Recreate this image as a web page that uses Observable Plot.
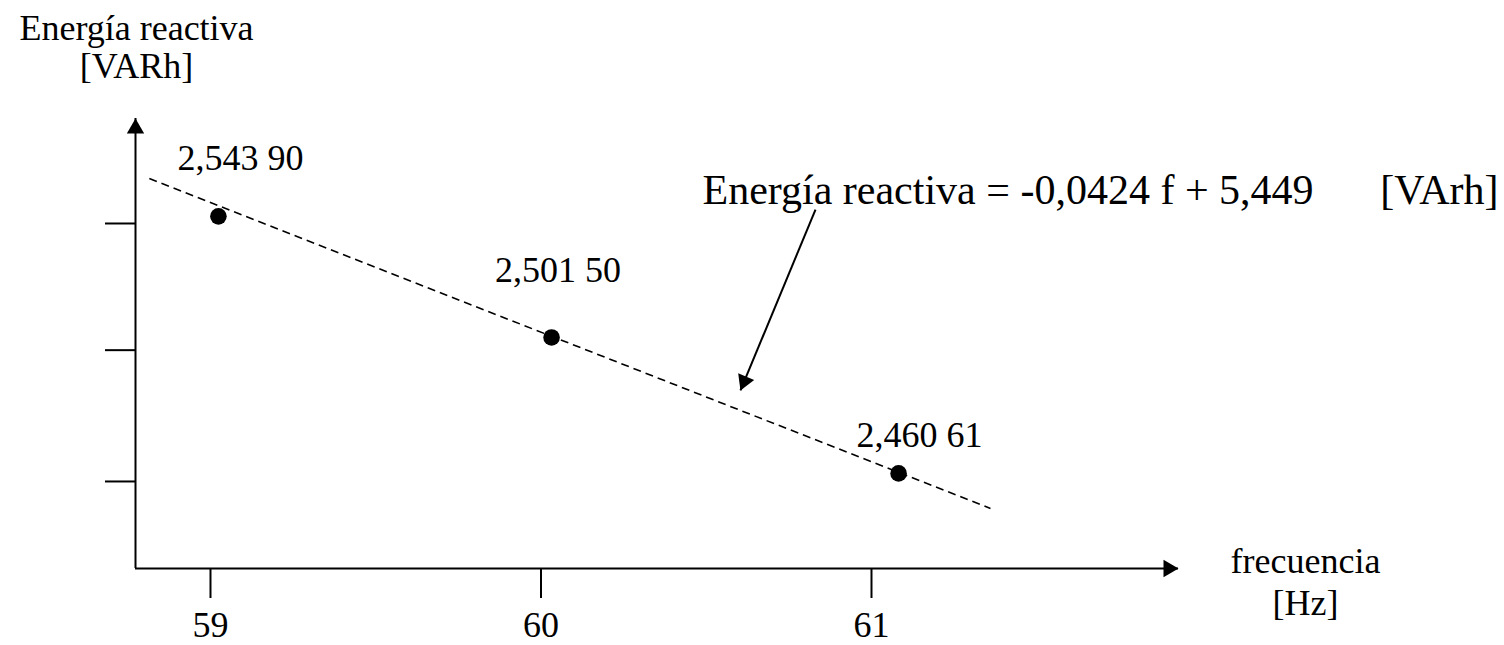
<!DOCTYPE html>
<html>
<head>
<meta charset="utf-8">
<script src="https://cdn.jsdelivr.net/npm/d3@7"></script>
<script src="https://cdn.jsdelivr.net/npm/@observablehq/plot@0.6"></script>
<style>
  html, body { margin: 0; padding: 0; background: #fff; }
  #chart svg { display: block; }
</style>
</head>
<body>
<div id="chart"></div>
<script>
// ---- data ----
const freqTicks = [59, 60, 61];                 // x tick values (Hz)
const energyTicks = [2.5439, 2.503, 2.4606];    // unlabeled y ticks (VARh)
const freqPts = [59.024, 60.032, 61.082];       // measured points, frequency
const energyPts = [2.5462, 2.5071, 2.4632];     // measured points, energy
const pointLabels = ["2,543 90", "2,501 50", "2,460 61"];
const fitFreq = [58.815, 61.360];               // dashed fit line endpoints
const fitEnergy = [2.5584, 2.4519];
const arrowFrom = [60.8306, 2.5484];            // annotation arrow (freq, energy)
const arrowTo = [60.6036, 2.4900];
const equationText = "Energía reactiva = -0,0424 f + 5,449";
const equationUnit = "[VArh]";
const yTitle = "Energía reactiva\n[VARh]";
const xTitle = "frecuencia\n[Hz]";
const xDomain = [58.7731, 61.9289];
const yDomain = [2.4325, 2.5778];

const points = freqPts.map((f, i) => ({f, e: energyPts[i], label: pointLabels[i]}));
const fit = [{x1: fitFreq[0], y1: fitEnergy[0], x2: fitFreq[1], y2: fitEnergy[1]}];
const ann = [{x1: arrowFrom[0], y1: arrowFrom[1], x2: arrowTo[0], y2: arrowTo[1]}];

const FONT = "Liberation Serif, Times New Roman, serif";
const labelOffsets = [[22, -46], [6.5, -55], [21, -26]];

const chart = Plot.plot({
  width: 1504,
  height: 645,
  marginLeft: 135,
  marginRight: 326,
  marginTop: 118,
  marginBottom: 77,
  style: {fontFamily: FONT, background: "#fff", color: "#000"},
  x: {domain: xDomain, axis: null},
  y: {domain: yDomain, axis: null},
  marks: [
    // axis lines
    Plot.ruleY([yDomain[0]], {strokeWidth: 2, stroke: "#000"}),
    Plot.ruleX([xDomain[0]], {strokeWidth: 2, stroke: "#000"}),
    // axis arrowheads
    Plot.dot([{x: xDomain[1], y: yDomain[0]}], {x: "x", y: "y", symbol: "triangle", r: 6.43, fill: "#000", rotate: 90, dx: -10}),
    Plot.dot([{x: xDomain[0], y: yDomain[1]}], {x: "x", y: "y", symbol: "triangle", r: 6.43, fill: "#000", rotate: 0, dy: 10}),
    // ticks
    Plot.axisX(freqTicks, {tickSize: 30, tickPadding: 13, strokeWidth: 2, fontSize: 36, fontFamily: FONT, fill: "#000", stroke: "#000", label: null, tickFormat: d => String(d)}),
    Plot.axisY(energyTicks, {tickSize: 30, strokeWidth: 2, stroke: "#000", fill: "none", label: null}),
    // dashed fit line
    Plot.link(fit, {x1: "x1", y1: "y1", x2: "x2", y2: "y2", stroke: "#000", strokeWidth: 1.6, strokeDasharray: "8,5"}),
    // points
    Plot.dot(points, {x: "f", y: "e", r: 8.3, fill: "#000"}),
    // point labels
    ...labelOffsets.map(([dx, dy], i) =>
      Plot.text(points, {filter: (d, j) => j === i, x: "f", y: "e", text: "label", dx, dy,
        lineAnchor: "bottom", textAnchor: "middle", fontSize: 36, fontFamily: FONT, fill: "#000"})),
    // annotation arrow
    Plot.link(ann, {x1: "x1", y1: "y1", x2: "x2", y2: "y2", stroke: "#000", strokeWidth: 2}),
    Plot.dot(ann, {x: "x2", y: "y2", symbol: "triangle", r: 6.43, fill: "#000", rotate: 202.5, dx: 3.8, dy: -9.2}),
    // equation
    Plot.text(ann, {x: "x1", y: "y1", text: () => equationText, dx: -113, dy: -6,
      lineAnchor: "bottom", textAnchor: "start", fontSize: 42, fontFamily: FONT, fill: "#000"}),
    Plot.text(ann, {x: "x1", y: "y1", text: () => equationUnit, dx: 683, dy: -6,
      lineAnchor: "bottom", textAnchor: "end", fontSize: 42, fontFamily: FONT, fill: "#000"}),
    // axis titles
    Plot.text([{x: xDomain[0], y: yDomain[1]}], {x: "x", y: "y", text: () => yTitle, dx: 1, dy: -41,
      lineAnchor: "bottom", textAnchor: "middle", lineHeight: 1.05, fontSize: 36, fontFamily: FONT, fill: "#000"}),
    Plot.text([{x: xDomain[1], y: yDomain[0]}], {x: "x", y: "y", text: () => xTitle, dx: 127, dy: 46,
      lineAnchor: "bottom", textAnchor: "middle", lineHeight: 1.167, fontSize: 36, fontFamily: FONT, fill: "#000"})
  ]
});
document.getElementById("chart").appendChild(chart);
</script>
</body>
</html>
